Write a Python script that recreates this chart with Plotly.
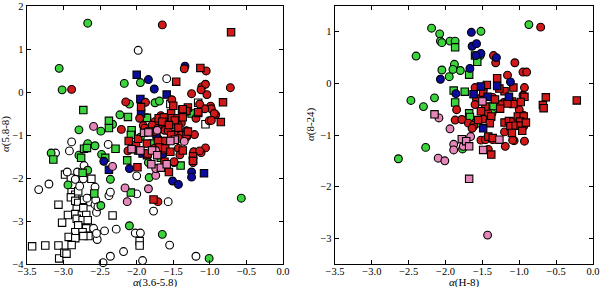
import plotly.graph_objects as go

# ---------------- LEFT PANEL: alpha(3.6-5.8) vs alpha(5.8-8) ----------------
L_green_circ_x = [-2.67,-3.06,-3.02,-2.17,-1.95,-2.10,-1.75,-1.69,-2.23,-2.33,-2.79,-2.49,-2.07,-3.17,-2.79,-2.67,-2.57,-2.48,-2.67,-2.36,-2.94,-1.84,-1.83,-2.49,-2.10,-1.65,-1.01,-0.57,-1.86,-1.95]
L_green_circ_y = [1.60,0.55,0.05,0.20,0.22,-0.28,-0.25,-0.21,-0.53,-0.75,-0.88,-0.91,-0.93,-1.42,-1.47,-1.20,-1.25,-1.45,-1.82,-2.03,-2.16,-1.64,-1.99,-2.64,-3.11,-3.31,-3.87,-2.47,-0.60,-1.05]

L_green_sq_x = [-2.73,-2.38,-2.38,-2.12,-1.86,-2.07,-2.08,-2.29,-2.72,-2.68,-2.76,-2.43,-3.14,-2.13,-2.74,-2.08,-2.58,-1.78,-1.67,-1.40,-1.25]
L_green_sq_y = [-0.42,-0.67,-0.84,-0.58,-0.60,-0.89,-1.00,-1.32,-1.32,-1.30,-1.53,-1.53,-1.57,-1.59,-1.88,-2.34,-2.36,-1.20,-1.53,-1.71,-0.50]

L_red_circ_x = [-1.65,-2.89,-1.35,-1.05,-1.11,-1.06,-0.72,-1.04,-1.25,-1.52,-2.15,-1.88,-2.21,-1.91,-1.71,-1.06,-1.12,-1.22,-1.23,-1.23,-1.49,-0.99,-0.98,-1.07,-0.92,-1.01,-1.14,
                -1.96,-1.67,-1.42,-1.39,-1.58,-1.75,-1.79,-1.48,-1.62,-1.71,-1.75,-1.89,-1.57,-1.49,-1.32,-1.39,-1.43,-1.62,-2.01,-1.63,-1.76,-2.12,-1.43,-1.22,-1.14,-1.41,-1.49,-1.32,-0.94,-0.98,-1.12,-1.19,-1.32,-1.21]
L_red_circ_y = [1.56,0.06,0.54,0.49,0.12,0.18,0.10,-0.06,-0.04,-0.18,-0.23,-0.24,-0.87,-0.78,-2.55,-1.30,-1.41,-1.41,-1.53,-1.64,-1.64,-0.33,-0.39,-0.39,-0.53,-0.67,-0.28,
                -0.61,-0.55,-0.69,-0.72,-0.69,-0.69,-0.77,-0.77,-0.89,-0.84,-0.92,-0.84,-0.90,-0.98,-0.90,-1.00,-1.08,-1.14,-1.22,-1.35,-1.31,-1.37,-1.31,-1.39,-1.37,-1.46,-1.62,-0.38,-0.50,-0.66,0.05,-0.61,-1.05,-0.99]

L_red_sq_x = [-0.71,-1.13,-1.46,-0.82,-0.85,-1.16,-1.94,-1.77,-1.99,-1.56,-1.86,-1.38,-1.34,-1.30,-1.32,-1.37,-1.16,-1.50,-1.62,
              -1.70,-1.63,-1.53,-1.52,-1.44,-1.48,-1.37,-1.65,-1.56,-1.43,-1.83,-1.53,-1.32,-2.11,-1.98,-1.71,-1.86,-1.69,-1.61,-1.98,-1.54,-1.37,-1.23,-1.85,-1.23,-1.62,-1.30]
L_red_sq_y = [1.39,0.56,0.24,-0.24,-0.70,-0.49,-0.35,-2.50,-1.75,-1.86,-1.47,-0.41,-0.44,-0.36,-0.44,-0.40,-0.47,-0.32,-0.60,
              -0.61,-0.59,-0.50,-0.61,-0.61,-0.66,-0.59,-0.69,-0.77,-0.83,-0.92,-1.00,-1.00,-1.14,-1.09,-1.14,-1.20,-1.29,-1.31,-1.36,-1.39,-1.36,-1.50,-1.43,-1.60,-1.62,-0.92]

L_blue_circ_x = [-1.34,-1.84,-1.76,-1.71,-1.69,-1.64,-2.45,-2.10,-1.51,-1.43,-1.25,-1.25]
L_blue_circ_y = [0.60,0.29,0.07,-1.08,-1.12,-1.45,-1.61,-1.78,-2.07,-2.15,-1.86,-1.98]

L_blue_sq_x = [-2.00,-1.95,-1.59,-1.94,-1.73,-2.38,-1.08,-1.92]
L_blue_sq_y = [0.40,-0.16,-0.06,-0.50,-0.99,-1.81,-1.89,-1.43]

L_pink_circ_x = [-2.59,-2.33,-1.74,-2.16,-2.13,-1.84,-1.72,-1.35,-1.74,-1.74]
L_pink_circ_y = [-0.80,-1.73,-1.94,-2.23,-2.55,-2.25,-0.89,-1.15,-1.36,-1.78]

L_pink_sq_x = [-1.90,-1.84,-1.48,-1.54,-2.07,-1.95,-1.79,-1.72,-1.80,-1.67,-1.59]
L_pink_sq_y = [-0.95,-0.94,-1.11,-1.14,-1.33,-1.36,-1.36,-1.47,-1.68,-1.76,-1.68]

L_white_circ_x = [-1.98,-1.59,-3.11,-2.92,-2.89,-2.39,-2.72,-2.81,-2.95,-3.20,-3.34,-2.00,-2.00,-1.57,-1.77,-2.28,-2.02,-1.95,-2.18,-2.36,-2.46,-1.92,-1.55,-1.19,-2.54,-2.44,-2.38,-2.36,-2.57,-2.55,-2.57,
                  -2.84,-2.73,-2.78,-2.68,-2.56,-2.53,-2.59,-2.55]
L_white_circ_y = [0.97,0.31,-1.42,-1.37,-1.16,-1.22,-1.71,-1.86,-1.86,-2.14,-2.27,-1.95,-2.37,-2.55,-2.77,-3.19,-3.28,-3.28,-3.71,-3.82,-3.97,-3.92,-3.56,-3.82,-3.43,-3.23,-2.41,-2.33,-2.21,-2.80,-2.62,
                  -2.03,-2.02,-2.19,-2.47,-2.51,-2.67,-3.17,-3.29]

L_white_sq_x = [-1.54,-1.16,-1.06,-2.98,-2.90,-3.07,-2.94,-3.02,-3.07,-3.25,-3.43,-3.06,-2.99,-2.96,-2.89,-2.84,-2.80,-2.90,-2.84,-2.80,-2.72,-2.62,-2.62,-2.64,
                -2.82,-2.73,-2.84,-2.75,-2.69,-2.82,-2.74,-2.67,-2.80,-2.69,-2.84,-2.74,-2.66,-2.93,-2.84,-2.73,-2.89,-2.33,-1.96,-1.96]
L_white_sq_y = [-0.28,-0.25,-0.75,-1.92,-2.00,-2.62,-2.86,-3.04,-3.57,-3.57,-3.59,-3.87,-3.74,-3.76,-2.33,-2.39,-2.31,-2.45,-2.53,-2.58,-2.51,-2.47,-2.02,-2.56,
                -2.72,-2.70,-2.84,-2.87,-2.86,-2.95,-2.98,-2.98,-3.10,-3.17,-3.26,-3.26,-3.35,-3.37,-3.40,-3.35,-3.56,-2.87,-3.47,-3.57]

# ---------------- RIGHT PANEL: alpha(H-8) vs alpha(8-24) ----------------
R_green_circ_x = [-0.87,-2.19,-2.08,-2.07,-2.05,-1.94,-1.87,-1.52,-2.40,-1.88,-1.80,-1.90,-2.05,-1.95,-2.15,-2.30,-2.47,-2.64,-2.27,-1.77,-1.53,-1.37]
R_green_circ_y = [1.14,1.07,0.96,0.82,0.79,0.82,0.82,1.01,0.53,0.37,0.25,0.27,0.26,0.13,-0.28,-0.45,-0.33,-1.46,-1.24,-1.27,0.54,-0.58]

R_green_sq_x = [-1.87,-1.60,-1.57,-1.68,-1.89,-1.74,-1.87,-1.68,-1.67,-1.58,-1.35]
R_green_sq_y = [0.70,0.54,0.42,0.17,-0.14,-0.16,-0.37,-0.58,-0.65,-0.77,-0.44]

R_blue_circ_x = [-1.65,-1.64,-1.58,-1.52,-1.59,-1.67,-2.07,-1.31,-1.12,-1.86]
R_blue_circ_y = [0.99,0.72,0.77,0.58,0.54,0.29,0.08,0.50,0.03,-0.20]

R_blue_sq_x = [-1.52,-1.62,-1.30,-1.43,-1.14,-1.49]
R_blue_sq_y = [-0.06,-0.21,-0.05,-0.26,-0.26,-0.87]

R_red_circ_x = [-0.71,-1.35,-1.32,-1.06,-1.16,-0.95,-0.90,-0.93,-1.00,-0.94,-1.60,-1.85,-1.87,-1.78,-1.62,-1.07,-1.19,-0.93,-1.42,
                -1.49,-1.52,-1.36,-0.95,-1.58,-1.60,-1.21,-1.25,-1.43,-1.69,-1.49,-1.62,-1.64,-1.39,-0.94,-1.20,-1.52,-1.46,-1.36,-1.09]
R_red_circ_y = [1.09,0.54,0.40,0.40,0.16,0.22,0.22,-0.08,-0.51,-0.62,-0.08,-0.51,-0.71,-0.70,-0.83,-1.11,-1.22,-1.12,-1.28,
                -0.13,-0.28,-0.27,-0.23,-0.31,-0.41,-0.37,-0.41,-0.56,-0.77,-0.69,-0.81,-0.87,-0.69,-0.83,-0.94,-1.10,-1.09,-1.09,-1.10]

R_red_sq_x = [-0.22,-0.64,-0.68,-0.67,-0.93,-0.98,-1.30,-1.44,-1.38,-1.42,-1.08,-1.20,-1.10,-1.14,
              -1.27,-1.49,-1.33,-1.08,-1.16,-1.46,-1.26,-1.52,-1.38,-1.56,-1.40,-1.20,-1.14,-1.08,-1.02,-0.94,-0.99,-1.12,-1.05,-0.98,-0.91,-1.10,-1.36,-0.96]
R_red_sq_y = [-0.33,-0.27,-0.42,-0.48,-0.26,-0.36,0.10,-0.03,-1.38,-1.03,-0.08,-0.15,-0.35,-0.35,
              -0.10,-0.18,-0.31,-0.40,-0.39,-0.45,-0.49,-0.54,-0.64,-0.71,-0.77,-0.76,-0.73,-0.74,-0.64,-0.64,-0.74,-0.83,-0.82,-0.82,-0.76,-0.96,-1.06,-0.92]

R_pink_circ_x = [-2.09,-1.94,-1.89,-1.89,-2.10,-2.01,-1.43,-1.66,-1.76]
R_pink_circ_y = [-0.67,-0.88,-1.18,-1.29,-1.45,-1.50,-2.94,-1.03,-1.22]

R_pink_sq_x = [-2.15,-1.68,-1.78,-1.72,-1.68,-1.49,-1.27,-1.50]
R_pink_sq_y = [-0.60,-1.85,-1.08,-1.12,-1.22,-1.29,-1.09,-0.35]

# ---------------- styling ----------------
GREEN = "#3cd43c"
RED = "#d01a1a"
BLUE = "#0c0c9a"
PINK = "#e586b8"
WHITE = "#ffffff"

fig = go.Figure()

def add(xs, ys, color, symbol, xa, ya):
    fig.add_trace(go.Scatter(
        x=xs, y=ys, mode="markers", xaxis=xa, yaxis=ya, showlegend=False,
        cliponaxis=False, hoverinfo="skip",
        marker=dict(color=color, symbol=symbol, size=7.8 if symbol == "circle" else 7.4,
                    line=dict(color="black", width=1.1))))

left = [
    (L_white_sq_x, L_white_sq_y, WHITE, "square"),
    (L_white_circ_x, L_white_circ_y, WHITE, "circle"),
    (L_green_circ_x, L_green_circ_y, GREEN, "circle"),
    (L_green_sq_x, L_green_sq_y, GREEN, "square"),
    (L_blue_circ_x, L_blue_circ_y, BLUE, "circle"),
    (L_blue_sq_x, L_blue_sq_y, BLUE, "square"),
    (L_red_circ_x, L_red_circ_y, RED, "circle"),
    (L_red_sq_x, L_red_sq_y, RED, "square"),
    (L_pink_circ_x, L_pink_circ_y, PINK, "circle"),
    (L_pink_sq_x, L_pink_sq_y, PINK, "square"),
]
right = [
    (R_green_circ_x, R_green_circ_y, GREEN, "circle"),
    (R_green_sq_x, R_green_sq_y, GREEN, "square"),
    (R_red_circ_x, R_red_circ_y, RED, "circle"),
    (R_red_sq_x, R_red_sq_y, RED, "square"),
    (R_blue_circ_x, R_blue_circ_y, BLUE, "circle"),
    (R_blue_sq_x, R_blue_sq_y, BLUE, "square"),
    (R_pink_circ_x, R_pink_circ_y, PINK, "circle"),
    (R_pink_sq_x, R_pink_sq_y, PINK, "square"),
]
for xs, ys, c, s in left:
    add(xs, ys, c, s, "x", "y")
for xs, ys, c, s in right:
    add(xs, ys, c, s, "x2", "y2")

FONT = dict(family="Liberation Serif, DejaVu Serif, serif", size=10.5, color="black")
axis_common = dict(showline=True, linecolor="black", linewidth=1.3, mirror="ticks",
                   ticks="inside", ticklen=4, tickwidth=1, tickcolor="black",
                   showgrid=False, zeroline=False, tickfont=FONT, automargin=False)
x_extra = dict(range=[-3.5, 0.0], dtick=0.5, tick0=0, tickformat=".1f", ticklabelstandoff=-3)

ydom = [1 - 264/287, 1 - 6/287]
fig.update_layout(
    width=600, height=287, margin=dict(l=0, r=0, t=0, b=0, pad=0), autosize=False,
    paper_bgcolor="white", plot_bgcolor="white",
    xaxis=dict(domain=[27/600, 283/600], anchor="y", **x_extra, **axis_common),
    yaxis=dict(domain=ydom, range=[-4, 2], dtick=1, tick0=0, anchor="x", **axis_common),
    xaxis2=dict(domain=[335/600, 593/600], anchor="y2", **x_extra, **axis_common),
    yaxis2=dict(domain=ydom, range=[-3.5, 1.5], dtick=1, tick0=0, anchor="x2", **axis_common),
    font=FONT,
)

TFONT = dict(family="Liberation Serif, DejaVu Serif, serif", size=11, color="black")
fig.add_annotation(text="<i>α</i>(3.6-5.8)", xref="paper", yref="paper", x=155/600, y=1 - 282.5/287,
                   showarrow=False, font=TFONT, xanchor="center", yanchor="middle")
fig.add_annotation(text="<i>α</i>(H-8)", xref="paper", yref="paper", x=464/600, y=1 - 282.5/287,
                   showarrow=False, font=TFONT, xanchor="center", yanchor="middle")
fig.add_annotation(text="<i>α</i>(5.8-8)", xref="paper", yref="paper", x=6/600, y=1 - 134/287,
                   showarrow=False, font=TFONT, textangle=-90, xanchor="center", yanchor="middle")
fig.add_annotation(text="<i>α</i>(8-24)", xref="paper", yref="paper", x=310/600, y=1 - 124/287,
                   showarrow=False, font=TFONT, textangle=-90, xanchor="center", yanchor="middle")

fig.write_html("out.html", config={"displayModeBar": False, "staticPlot": True},
               post_script="document.body.style.margin='0px';document.body.style.overflow='hidden';")
